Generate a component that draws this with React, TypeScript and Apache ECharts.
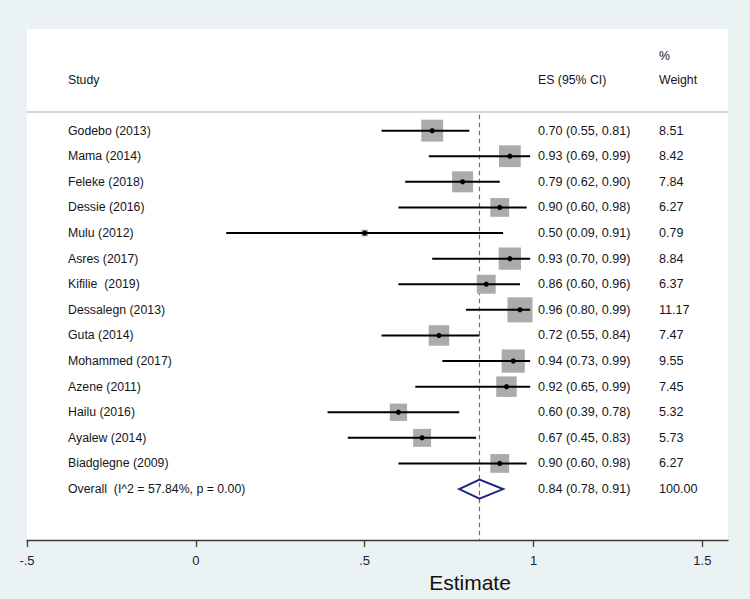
import React, { useEffect, useRef } from "react";
import * as echarts from "echarts";

const studies = [
  "Godebo (2013)",
  "Mama (2014)",
  "Feleke (2018)",
  "Dessie (2016)",
  "Mulu (2012)",
  "Asres (2017)",
  "Kifilie  (2019)",
  "Dessalegn (2013)",
  "Guta (2014)",
  "Mohammed (2017)",
  "Azene (2011)",
  "Hailu (2016)",
  "Ayalew (2014)",
  "Biadglegne (2009)",
];
const estimates = [0.70, 0.93, 0.79, 0.90, 0.50, 0.93, 0.86, 0.96, 0.72, 0.94, 0.92, 0.60, 0.67, 0.90];
const lowerCI = [0.55, 0.69, 0.62, 0.60, 0.09, 0.70, 0.60, 0.80, 0.55, 0.73, 0.65, 0.39, 0.45, 0.60];
const upperCI = [0.81, 0.99, 0.90, 0.98, 0.91, 0.99, 0.96, 0.99, 0.84, 0.99, 0.99, 0.78, 0.83, 0.98];
const weights = [8.51, 8.42, 7.84, 6.27, 0.79, 8.84, 6.37, 11.17, 7.47, 9.55, 7.45, 5.32, 5.73, 6.27];

const overallLabel = "Overall  (I^2 = 57.84%, p = 0.00)";
const overallEstimate = 0.84;
const overallLower = 0.78;
const overallUpper = 0.91;
const overallWeight = 100.0;

const xTickValues = [-0.5, 0, 0.5, 1, 1.5];
const xTickLabels = ["-.5", "0", ".5", "1", "1.5"];

const FONT = "'Liberation Sans', Arial, Helvetica, sans-serif";
const TEXT_COLOR = "#15151c";
const X_MIN = -0.5;
const X_MAX = 1.576;
const Y_MIN = -3.97;
const Y_MAX = 15.99;
const REF_TOP = -0.62;
const COL_NAME = 68;
const COL_ES = 538;
const COL_W = 659;

function fmt(v: number) {
  return v.toFixed(2);
}

export default function App() {
  const ref = useRef<HTMLDivElement>(null);
  useEffect(() => {
    if (!ref.current) return;
    const chart = echarts.init(ref.current, undefined, { renderer: "svg" });

    const studyData = studies.map((s, i) => [i, estimates[i], lowerCI[i], upperCI[i], weights[i]]);
    const overallRow = studies.length;

    const textEl = (text: string, x: number, y: number, size = 12.3) => ({
      type: "text",
      style: {
        text,
        x,
        y,
        fill: TEXT_COLOR,
        fontSize: size,
        fontFamily: FONT,
        align: "left",
        verticalAlign: "middle",
      },
    });

    const option: any = {
      animation: false,
      backgroundColor: "#eaf2f3",
      grid: {
        left: 27,
        right: 22,
        top: 29,
        bottom: 59,
        show: true,
        backgroundColor: "#ffffff",
        borderWidth: 0,
        containLabel: false,
      },
      xAxis: {
        type: "value",
        min: X_MIN,
        max: X_MAX,
        interval: 0.5,
        splitLine: { show: false },
        axisLine: { show: true, onZero: false, lineStyle: { color: "#3a3a3a", width: 1.3 } },
        axisTick: {
          show: true,
          length: 7,
          lineStyle: { color: "#3a3a3a", width: 1.3 },
          customValues: xTickValues,
        },
        axisLabel: {
          customValues: xTickValues,
          margin: 14,
          color: "#1c2340",
          fontSize: 13,
          fontFamily: FONT,
          formatter: (v: number) => {
            const idx = xTickValues.findIndex((t) => Math.abs(t - v) < 1e-6);
            return idx >= 0 ? xTickLabels[idx] : "";
          },
        },
      },
      yAxis: {
        type: "value",
        inverse: true,
        min: Y_MIN,
        max: Y_MAX,
        show: false,
        splitLine: { show: false },
      },
      graphic: [
        textEl("%", COL_W, 56),
        textEl("Study", COL_NAME, 80),
        textEl("ES (95% CI)", COL_ES, 80),
        textEl("Weight", COL_W, 80),
        {
          type: "line",
          shape: { x1: 27, y1: 112, x2: 728, y2: 112 },
          style: { stroke: "#c9c9c9", lineWidth: 1.5 },
        },
        {
          type: "text",
          style: {
            text: "Estimate",
            x: 470,
            y: 582,
            fill: "#111111",
            fontSize: 21,
            fontFamily: FONT,
            align: "center",
            verticalAlign: "middle",
          },
        },
      ],
      series: [
        {
          type: "custom",
          name: "overall-ref",
          z: 1,
          silent: true,
          data: [[overallEstimate, REF_TOP, Y_MAX]],
          renderItem: (params: any, api: any) => {
            const [x, y1] = api.coord([api.value(0), api.value(1)]);
            const [, y2] = api.coord([api.value(0), api.value(2)]);
            const children: any[] = [];
            const dash = 4.5;
            const gap = 3.5;
            for (let y = y1; y < y2; y += dash + gap) {
              children.push({
                type: "line",
                shape: { x1: x, y1: y, x2: x, y2: Math.min(y + dash, y2) },
                style: { stroke: "#c04458", lineWidth: 1.2 },
              });
            }
            return { type: "group", children };
          },
        },
        {
          type: "custom",
          name: "studies",
          z: 3,
          data: studyData,
          renderItem: (params: any, api: any) => {
            const i = api.value(0);
            const e = api.value(1);
            const l = api.value(2);
            const h = api.value(3);
            const w = api.value(4);
            const [xe, y] = api.coord([e, i]);
            const [xl] = api.coord([l, i]);
            const [xh] = api.coord([h, i]);
            const side = 7.5 * Math.sqrt(w);
            return {
              type: "group",
              children: [
                {
                  type: "rect",
                  shape: { x: xe - side / 2, y: y - side / 2, width: side, height: side },
                  style: { fill: "#ababab" },
                },
                {
                  type: "line",
                  shape: { x1: xl, y1: y, x2: xh, y2: y },
                  style: { stroke: "#000000", lineWidth: 2 },
                },
                {
                  type: "circle",
                  shape: { cx: xe, cy: y, r: 2.6 },
                  style: { fill: "#000000" },
                },
                textEl(studies[i], COL_NAME, y),
                textEl(`${fmt(e)} (${fmt(l)}, ${fmt(h)})`, COL_ES, y, 12.6),
                textEl(fmt(w), COL_W, y, 12.6),
              ],
            };
          },
        },
        {
          type: "custom",
          name: "overall",
          z: 4,
          data: [[overallRow, overallEstimate, overallLower, overallUpper, overallWeight]],
          renderItem: (params: any, api: any) => {
            const r = api.value(0);
            const e = api.value(1);
            const l = api.value(2);
            const h = api.value(3);
            const w = api.value(4);
            const [xe, y] = api.coord([e, r]);
            const [xl] = api.coord([l, r]);
            const [xh] = api.coord([h, r]);
            const half = 9.5;
            return {
              type: "group",
              children: [
                {
                  type: "polygon",
                  shape: {
                    points: [
                      [xl, y],
                      [xe, y - half],
                      [xh, y],
                      [xe, y + half],
                    ],
                  },
                  style: { fill: "none", stroke: "#1c2580", lineWidth: 2 },
                },
                textEl(overallLabel, COL_NAME, y),
                textEl(`${fmt(e)} (${fmt(l)}, ${fmt(h)})`, COL_ES, y, 12.6),
                textEl(fmt(w), COL_W, y, 12.6),
              ],
            };
          },
        },
      ],
    };

    chart.setOption(option);
    return () => {
      chart.dispose();
    };
  }, []);

  return (
    <div
      ref={ref}
      style={{ position: "fixed", left: 0, top: 0, width: 750, height: 599 }}
    />
  );
}
